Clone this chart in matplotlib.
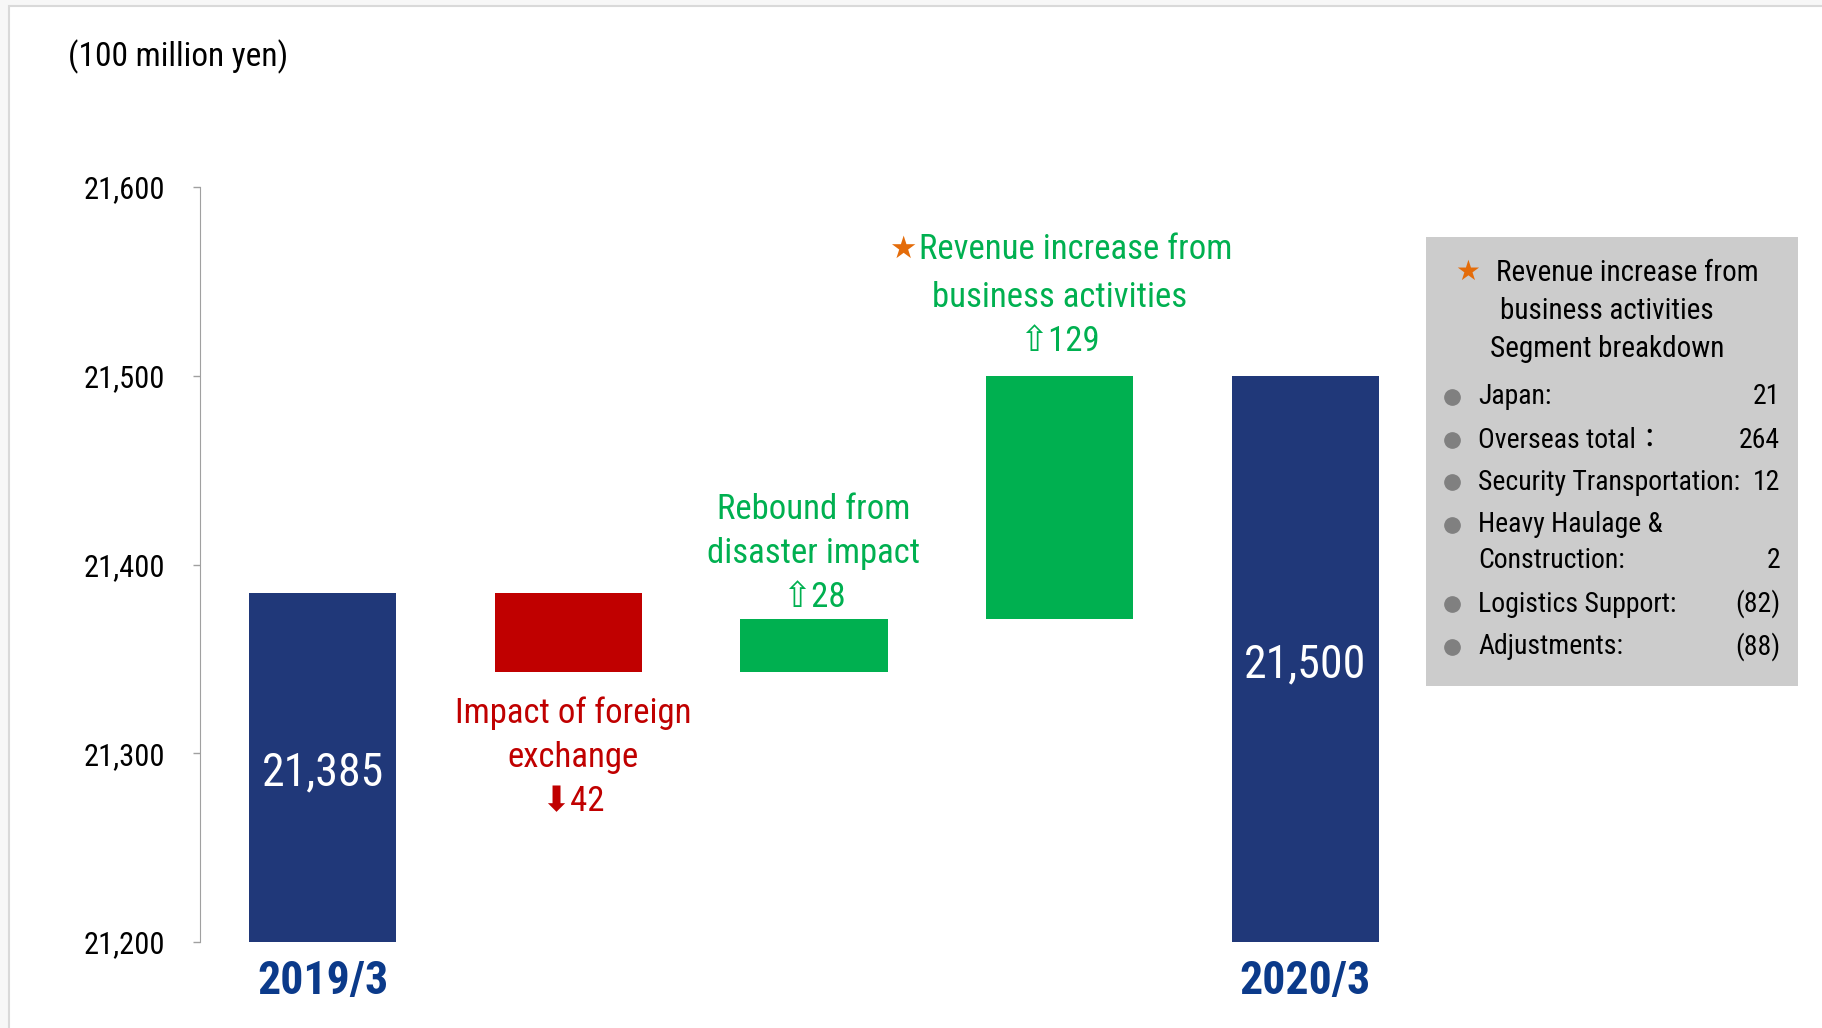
import matplotlib
matplotlib.use('Agg')
import matplotlib.pyplot as plt
from matplotlib import font_manager
from matplotlib.patches import Rectangle

# revenue bridge, 100 million yen
start_label = '2019/3'
end_label = '2020/3'
start_value = 21385
end_value = 21500
step_names = ['Impact of foreign\nexchange', 'Rebound from\ndisaster impact', 'Revenue increase from\nbusiness activities']
step_values = [-42, 28, 129]

# segment breakdown of the business-activities increase
seg_names = ['Japan:', 'Overseas total：', 'Security Transportation:', 'Heavy Haulage &\nConstruction:',
             'Logistics Support:', 'Adjustments:']
seg_values = ['21', '264', '12', '2', '(82)', '(88)']

y_ticks = [21200, 21300, 21400, 21500, 21600]

NAVY = '#203879'
RED = '#C00000'
GREEN = '#00B050'
ORANGE = '#E46C0A'


def pick_narrow_font():
    # look for a narrow sans face; fall back to a condensed stretch of a known family
    fonts = font_manager.fontManager.ttflist
    names = {f.name for f in fonts}
    for cand in ['Liberation Sans Narrow', 'Arial Narrow', 'Roboto Condensed', 'Open Sans Condensed',
                 'Noto Sans Condensed', 'Noto Sans ExtraCondensed', 'DejaVu Sans Condensed']:
        if cand in names:
            return cand, 'normal'
    for fam in ['Roboto', 'Noto Sans', 'Open Sans', 'DejaVu Sans']:
        for f in fonts:
            if f.name == fam and str(f.stretch) in ('condensed', 'semi-condensed', 'extra-condensed'):
                return fam, f.stretch
    return 'Liberation Sans', 'normal'


narrow, stretch = pick_narrow_font()
FONT = [narrow, 'DejaVu Sans', 'Noto Sans CJK JP']
plt.rcParams['font.family'] = FONT
plt.rcParams['font.stretch'] = stretch

W, H = 1822, 1028
fig = plt.figure(figsize=(W / 100, H / 100), dpi=100)
fig.patch.set_facecolor('#F7F7F7')


def px(x, y):
    # pixel position (from top-left) to figure fraction
    return x / W, 1 - y / H


# white page with a thin grey edge
fig.patches.append(Rectangle(px(9, 1040), 1900 / W, 1034 / H, transform=fig.transFigure,
                             facecolor='white', edgecolor='#D9D9D9', linewidth=1.5, zorder=-5))

ax = fig.add_axes([200 / W, 1 - 942 / H, (1428 - 200) / W, (942 - 187) / H])
ax.set_facecolor('none')

# waterfall bars
n = len(step_values)
ax.bar(0, start_value, width=0.6, color=NAVY)
level = start_value
for i, v in enumerate(step_values):
    bottom = level if v > 0 else level + v
    ax.bar(i + 1, abs(v), bottom=bottom, width=0.6, color=GREEN if v > 0 else RED)
    level += v
ax.bar(n + 1, end_value, width=0.6, color=NAVY)

ax.set_xlim(-0.5, n + 1.5)
ax.set_ylim(y_ticks[0], y_ticks[-1])
ax.set_yticks(y_ticks)
ax.set_yticklabels([f'{t:,}' for t in y_ticks], fontsize=22)
ax.tick_params(axis='y', direction='out', length=5, width=1, color='#A0A0A0', pad=20)
ax.set_xticks([0, n + 1])
ax.set_xticklabels([start_label, end_label], fontsize=33, fontweight='bold', color='#0B3A8A')
ax.tick_params(axis='x', length=0, pad=12)
for s in ['top', 'right', 'bottom']:
    ax.spines[s].set_visible(False)
ax.spines['left'].set_color('#A0A0A0')

# totals inside the navy bars
ax.text(0, 21290, f'{start_value:,}', color='white', fontsize=33, ha='center', va='center')
ax.text(n + 1, 21347, f'{end_value:,}', color='white', fontsize=33, ha='center', va='center')

# step annotations
ax.text(1.02, 21298, f'{step_names[0]}\n⬇{abs(step_values[0])}', color=RED, fontsize=25,
        ha='center', va='center', linespacing=1.42)
ax.text(2.0, 21406, f'{step_names[1]}\n⇧{step_values[1]}', color=GREEN, fontsize=25,
        ha='center', va='center', linespacing=1.42)
first, second = step_names[2].split('\n')
ax.text(3.065, 21567, first, color=GREEN, fontsize=25, ha='center', va='center')
ax.text(2.36, 21567, '★', color=ORANGE, fontsize=22, ha='center', va='center',
        family='DejaVu Sans')
ax.text(3.0, 21530, f'{second}\n⇧{step_values[2]}', color=GREEN, fontsize=25,
        ha='center', va='center', linespacing=1.42)

fig.text(*px(68, 57), '(100 million yen)', fontsize=24, ha='left', va='center')

# segment breakdown box
x0, y0, x1, y1 = 1426, 237, 1798, 686
fig.patches.append(Rectangle(px(x0, y1), (x1 - x0) / W, (y1 - y0) / H, transform=fig.transFigure,
                             facecolor='#CCCCCC', edgecolor='none', zorder=1))
fig.text(*px(1468, 272), '★', color=ORANGE, fontsize=20, ha='center', va='center',
         family='DejaVu Sans', zorder=2)
fig.text(*px(1627, 273), 'Revenue increase from', fontsize=21, ha='center', va='center', zorder=2)
fig.text(*px(1607, 311), 'business activities', fontsize=21, ha='center', va='center', zorder=2)
fig.text(*px(1607, 349), 'Segment breakdown', fontsize=21, ha='center', va='center', zorder=2)

row_y = [397, 440, 482, 525, 604, 647]
for name, val, y in zip(seg_names, seg_values, row_y):
    bx, by = px(1452, y)
    fig.add_artist(plt.Line2D([bx], [by], marker='o', markersize=11, color='#808080',
                              transform=fig.transFigure, zorder=2))
    lines = name.split('\n')
    for k, line in enumerate(lines):
        fig.text(*px(1478, y + 36 * k), line, fontsize=20, ha='left', va='center', zorder=2)
    fig.text(*px(1780, y + 36 * (len(lines) - 1)), val, fontsize=20, ha='right', va='center', zorder=2)

fig.savefig('out.png', dpi=100, facecolor=fig.get_facecolor())
